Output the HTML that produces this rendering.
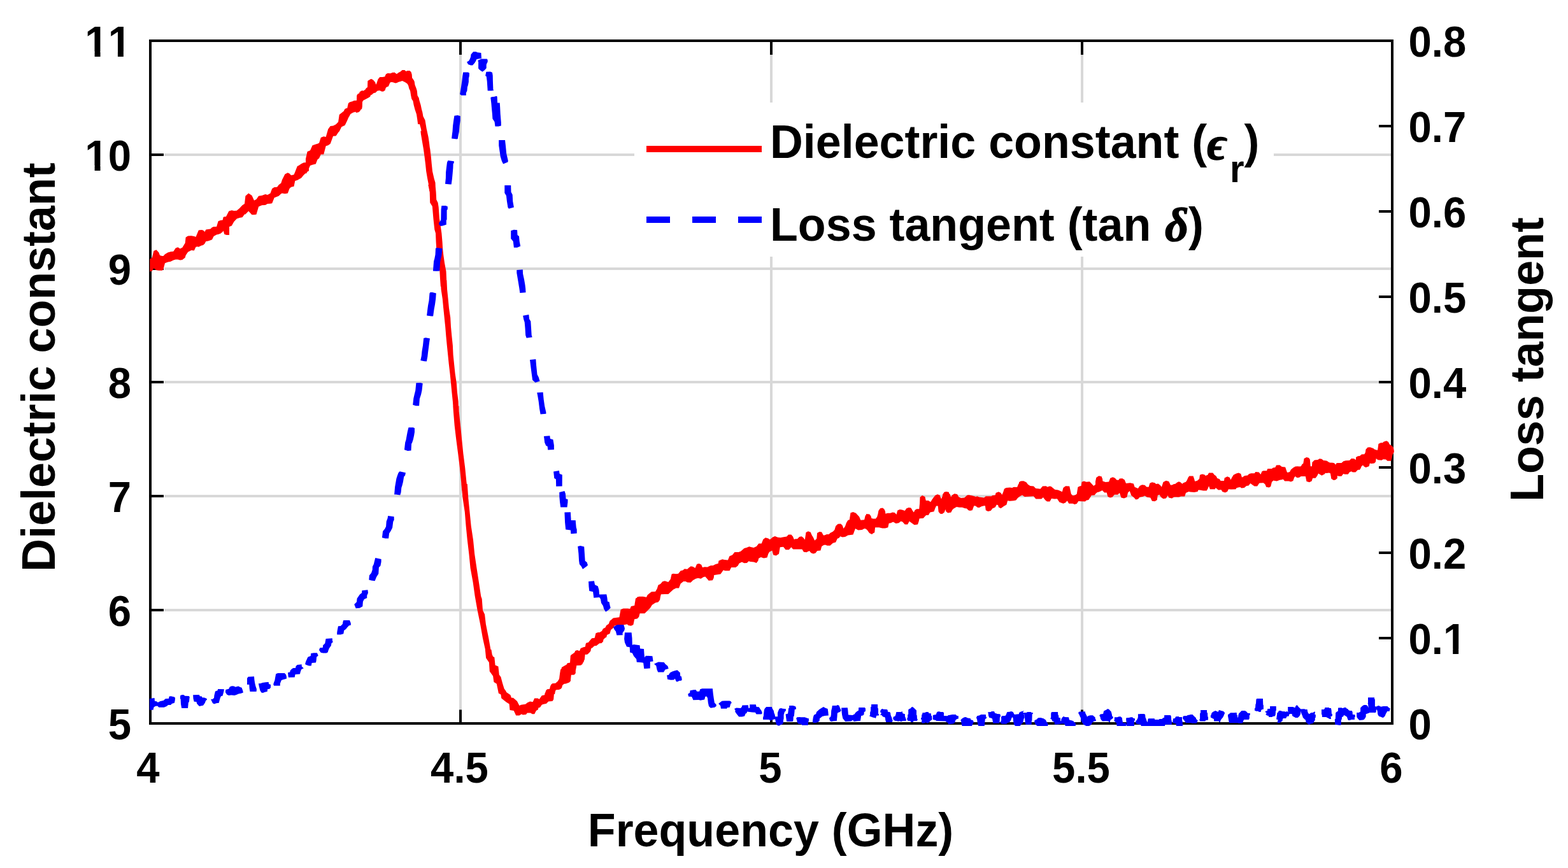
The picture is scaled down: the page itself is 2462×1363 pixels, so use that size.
<!DOCTYPE html><html><head><meta charset="utf-8"><title>Dielectric constant and loss tangent</title><style>html,body{margin:0;padding:0;background:#fff;overflow:hidden}svg{display:block}text{font-family:'Liberation Sans', Arial, Helvetica, sans-serif;font-weight:bold;fill:#000;font-kerning:none}</style></head><body>
<svg width="2462" height="1363" viewBox="0 0 2462 1363">
<rect width="2462" height="1363" fill="#fff"/>
<path d="M723 64V1136M1211 64V1136M1699 64V1136M258 958H2186M258 779H2186M258 600H2186M258 422H2186M258 243H2186" stroke="#d8d8d8" stroke-width="4" fill="none"/>
<path d="M236 64H2186V1136H236Z" stroke="#000" stroke-width="4" fill="none" stroke-linejoin="miter"/>
<path d="M723 1136v-21.5M723 64v22M1211 1136v-21.5M1211 64v22M1699 1136v-21.5M1699 64v22M236 958h21M236 779h21M236 600h21M236 422h21M236 243h21M2186 1002h-21M2186 868h-21M2186 734h-21M2186 600h-21M2186 466h-21M2186 332h-21M2186 198h-21" stroke="#000" stroke-width="4" fill="none" stroke-linecap="butt"/>
<path d="M235.3 406.7 238.8 404.5 241.4 393.9 245.4 392.2 249.4 396.6 251.1 401.0 254.6 401.9 256.4 401.9 259.0 399.2 263.5 396.6 267.9 395.3 272.3 394.8 275.8 389.5 279.3 388.2 282.8 390.4 286.3 388.7 290.7 381.6 291.6 372.8 295.1 370.6 300.4 370.2 304.8 371.1 307.5 371.9 310.1 365.8 311.9 361.4 316.3 360.9 318.9 361.4 321.5 364.0 323.3 360.5 326.8 360.1 330.4 359.6 333.0 357.0 335.6 356.1 340.0 356.1 342.7 347.3 346.2 346.0 349.7 345.5 350.6 341.1 352.4 340.2 355.9 340.2 360.0 334.1 360.0 368.9 355.9 368.9 352.4 368.0 350.6 362.3 349.7 364.0 346.2 366.7 342.7 368.0 340.0 368.4 335.6 371.1 333.0 376.3 330.4 377.2 326.8 378.5 323.3 379.0 321.5 382.5 318.9 385.1 316.3 385.6 311.9 387.8 310.1 387.3 307.5 387.8 304.8 393.5 300.4 393.1 295.1 395.7 291.6 401.0 290.7 404.5 286.3 408.0 282.8 408.5 279.3 407.6 275.8 407.6 272.3 408.5 267.9 410.7 263.5 411.5 259.0 413.3 256.4 423.0 254.6 424.8 249.4 424.8 245.4 424.3 241.4 421.2 238.8 425.6 235.3 426.5ZM355.0 339.9 359.4 331.5 363.8 330.2 367.3 331.1 371.7 330.7 376.1 327.1 380.5 322.3 384.0 320.1 385.4 307.8 390.2 303.4 395.5 306.9 399.0 314.8 402.5 313.1 406.1 307.8 411.3 306.9 416.6 305.1 420.1 306.0 424.5 303.4 427.2 296.3 430.7 294.1 435.1 293.7 437.7 290.2 441.3 287.5 443.0 282.3 447.4 273.5 451.8 271.2 454.5 272.6 457.1 275.2 461.5 274.3 463.3 269.9 466.8 261.1 469.4 259.8 473.0 257.2 476.5 255.4 480.0 255.0 480.9 248.8 485.0 240.0 485.0 268.2 480.9 270.8 480.0 271.7 476.5 275.2 473.0 279.6 469.4 281.4 466.8 283.1 463.3 284.0 461.5 292.8 457.1 293.7 454.5 296.3 451.8 303.4 447.4 304.3 443.0 303.4 441.3 304.3 437.7 307.8 435.1 308.7 430.7 310.4 427.2 319.2 424.5 319.7 420.1 320.1 416.6 321.9 411.3 322.3 406.1 324.5 402.5 336.8 399.0 337.3 395.5 337.3 390.2 331.5 385.4 336.4 384.0 336.4 380.5 341.2 376.1 342.1 371.7 343.4 367.3 348.3 363.8 354.4 359.4 356.2 355.0 361.5ZM480.0 249.5 482.6 238.0 487.0 236.3 490.6 228.3 495.8 226.6 498.5 225.7 501.1 224.4 503.8 216.0 508.2 214.3 511.7 215.1 515.2 202.8 518.7 198.0 523.1 197.5 527.5 195.3 531.1 191.4 532.8 179.9 536.3 177.3 541.6 172.9 545.1 170.2 546.9 162.3 550.4 160.1 554.8 158.8 557.5 158.4 557.5 176.1 554.8 176.4 550.4 179.0 546.9 185.2 545.1 189.6 541.6 196.7 536.3 199.3 532.8 206.3 531.1 208.1 527.5 213.4 523.1 213.8 518.7 225.7 515.2 228.3 511.7 229.2 508.2 242.4 503.8 242.4 501.1 248.6 498.5 250.4 495.8 257.4 490.6 258.7 487.0 260.0 482.6 270.0 480.0 273.2ZM540.0 174.0 541.2 171.6 543.5 169.9 545.9 168.7 546.5 165.2 547.6 161.6 549.4 160.2 553.5 159.9 555.3 158.1 560.0 157.8 560.2 149.9 561.7 147.6 564.1 146.4 564.6 144.6 566.4 143.2 568.8 142.0 570.5 142.9 571.7 142.0 573.5 141.1 574.6 138.8 577.0 137.0 577.6 132.3 578.7 127.0 581.1 125.0 582.8 124.1 585.2 125.0 586.9 126.4 589.3 129.4 590.2 132.9 591.6 130.5 592.8 130.0 593.4 125.3 594.6 122.9 596.3 121.2 604.0 120.9 605.1 118.2 606.3 116.2 608.7 115.0 612.8 115.3 613.9 115.9 615.1 114.1 620.0 113.8 620.0 130.0 618.1 129.4 613.9 128.8 612.2 129.4 611.6 131.7 609.8 135.8 606.9 136.7 605.1 138.8 604.0 142.3 601.6 143.7 598.7 143.5 596.3 142.0 594.0 142.0 592.2 142.9 589.3 145.8 586.4 146.1 584.0 148.7 582.3 149.0 581.1 151.7 578.1 153.7 576.4 154.6 574.6 154.6 572.3 155.8 570.5 157.5 569.0 159.9 568.8 167.5 568.2 171.0 566.4 172.2 565.2 174.6 562.9 176.3 559.4 176.9 556.4 174.0 555.3 174.0 554.1 176.3 551.2 177.5 549.4 179.2 548.8 182.2 545.9 185.7 544.7 190.0 540.0 192.2ZM570.0 143.1 573.7 140.5 577.0 137.6 577.3 127.3 578.1 126.6 582.5 124.0 586.1 125.8 588.3 128.8 590.5 133.2 593.5 124.4 596.4 121.1 600.8 121.1 604.5 120.3 606.0 116.3 609.6 115.2 612.6 115.5 615.5 114.2 620.6 114.4 622.8 116.3 625.8 114.1 628.7 112.6 631.6 110.0 635.3 110.0 637.5 111.9 639.7 111.1 643.4 111.1 645.6 113.3 646.7 117.0 642.3 139.0 641.2 134.6 639.7 131.7 637.5 129.9 635.3 128.8 631.6 126.9 628.7 128.0 625.8 128.8 622.8 130.2 620.6 130.6 615.5 128.8 612.6 129.5 609.6 135.4 606.0 137.2 604.5 142.0 600.8 143.4 596.4 142.0 592.0 142.7 588.3 145.6 582.5 148.6 580.3 152.2 576.6 154.4 573.7 155.9 570.0 158.1ZM645.6 113.3 646.7 117.0 647.1 122.2 649.6 125.8 650.7 128.0 651.5 133.2 653.7 139.0 654.8 142.7 655.5 150.0 657.7 153.7 658.4 157.4 660.6 164.7 662.1 172.1 663.2 175.7 663.9 179.4 665.0 186.7 667.6 190.4 668.0 195.0 656.2 195.0 655.1 186.7 654.0 179.4 651.5 172.1 649.6 164.7 648.5 158.8 646.3 155.2 645.2 150.0 644.1 142.7 642.3 139.0 641.2 134.6 642.6 113.3ZM663.1 180.0 667.5 188.8 669.7 202.0 672.6 215.2 673.9 224.1 675.2 235.1 666.0 235.1 664.7 224.1 660.9 202.0 657.2 188.8 654.3 180.0ZM670.6 205.7 671.2 210.4 672.9 222.2 675.3 233.9 676.7 245.6 677.8 257.4 679.0 269.1 681.7 280.8 683.5 286.7 684.1 300.0 674.1 300.0 673.5 292.6 671.2 280.8 669.2 269.1 668.0 257.4 666.5 245.6 664.9 233.9 662.9 222.2 660.9 210.4 660.4 205.7ZM683.5 290.0 684.6 301.7 685.2 313.5 687.6 318.2 688.7 325.2 689.9 342.8 691.7 354.5 693.4 366.2 694.6 380.3 695.2 390.9 696.4 401.4 698.1 413.2 700.5 426.1 701.1 439.0 701.6 449.9 691.9 449.9 691.1 439.0 690.3 424.9 687.0 407.3 685.2 389.7 684.6 380.3 684.0 366.2 682.3 360.4 680.5 344.0 679.4 331.1 678.8 324.0 675.2 318.2 674.7 301.7 672.3 290.0ZM701.4 440.0 702.1 454.7 703.6 469.3 705.0 484.0 707.2 498.7 708.0 513.3 709.4 528.0 710.9 542.6 711.6 557.3 713.1 572.0 714.6 586.6 716.8 601.3 717.9 616.0 719.7 630.6 720.0 639.9 711.6 639.9 710.9 630.6 709.4 616.0 708.0 601.3 706.5 586.6 704.8 572.0 703.3 557.3 701.8 542.6 700.4 528.0 699.2 513.3 697.7 498.7 696.2 484.0 694.8 469.3 692.6 454.7 691.8 440.0ZM720.5 637.4 720.7 646.2 723.0 668.2 725.2 690.3 727.4 712.3 730.2 734.3 732.4 756.3 734.0 770.2 725.2 770.2 724.1 756.3 721.9 734.3 719.2 712.3 716.3 690.3 713.7 668.2 711.9 646.2 711.3 637.4ZM733.8 760.0 735.3 782.0 737.5 804.1 739.7 826.1 743.0 848.1 745.2 870.1 748.5 892.2 751.9 914.2 755.2 936.2 756.7 940.6 758.0 958.2 761.1 964.8 762.9 980.3 767.3 1002.3 771.2 1024.3 775.0 1033.1 777.2 1046.3 783.8 1060.2 772.8 1060.2 769.5 1046.3 767.7 1035.3 762.9 1024.3 758.0 1002.3 754.1 980.3 749.6 958.2 745.7 936.2 742.6 914.2 738.6 892.2 736.4 870.1 733.8 848.1 731.6 826.1 729.8 804.1 726.5 782.0 724.3 760.0ZM771.4 1020.0 773.2 1030.6 776.3 1031.9 777.6 1044.6 782.4 1046.4 783.8 1059.6 786.4 1063.1 789.0 1072.8 791.7 1081.6 794.3 1085.1 795.2 1086.9 801.4 1091.3 803.1 1095.7 805.8 1095.7 811.9 1101.0 815.5 1108.0 818.1 1106.7 825.1 1105.8 828.2 1103.2 832.2 1101.4 836.6 1102.3 839.2 1096.6 844.5 1096.6 846.7 1097.9 850.7 1092.2 855.1 1091.3 857.7 1083.4 863.0 1082.1 865.6 1074.6 871.8 1073.3 877.1 1068.4 878.8 1063.1 880.6 1050.8 884.1 1048.2 888.5 1048.2 890.0 1046.4 890.0 1072.8 885.9 1073.7 883.2 1075.9 881.5 1080.7 878.0 1082.5 872.7 1083.4 870.0 1088.7 869.2 1098.3 867.4 1101.0 861.2 1101.4 857.7 1104.9 853.3 1105.8 850.7 1106.7 848.0 1110.7 845.4 1111.5 844.9 1114.2 841.9 1116.0 839.2 1121.2 835.7 1121.2 833.1 1119.5 827.8 1119.5 826.0 1122.1 820.7 1122.6 819.0 1121.2 815.5 1123.4 810.2 1123.4 806.7 1116.0 800.5 1115.1 799.6 1105.4 795.2 1102.7 787.3 1096.6 786.4 1090.4 782.9 1088.7 779.8 1073.7 775.4 1071.1 774.1 1061.4 768.8 1054.3 767.9 1040.2 763.1 1033.2 761.8 1020.0ZM881.8 1048.0 889.7 1043.6 890.6 1041.4 895.0 1040.5 895.8 1029.5 897.6 1027.7 902.0 1025.1 903.8 1022.0 906.4 1021.1 909.9 1022.4 911.7 1018.0 916.1 1016.3 918.7 1015.8 920.5 1009.7 924.0 1008.8 926.7 1005.7 929.3 1002.2 933.7 1001.7 935.5 994.3 939.0 992.9 941.6 992.9 945.1 990.7 946.9 987.2 950.4 985.5 952.2 981.9 955.7 979.7 957.5 974.9 961.0 972.3 962.7 970.5 972.4 969.2 973.3 964.3 974.6 957.3 978.6 955.5 985.6 955.5 989.2 956.0 990.9 952.0 996.2 951.1 998.0 939.7 1002.4 937.0 1010.0 937.0 1010.0 960.8 1005.0 961.7 1003.2 968.7 1000.6 971.4 996.2 972.3 994.4 981.1 990.9 982.8 986.5 981.9 984.8 980.2 980.4 981.1 968.0 981.9 964.5 982.8 962.7 986.3 959.2 989.0 957.5 995.1 953.1 996.9 952.2 1000.4 947.8 1003.1 946.0 1007.9 941.6 1009.2 937.2 1012.7 932.8 1013.6 928.4 1018.0 926.7 1023.3 923.1 1026.8 918.7 1027.7 917.9 1035.6 915.2 1040.9 912.6 1044.4 905.5 1044.4 903.8 1053.2 881.8 1053.2ZM1000.0 937.7 1003.5 936.8 1009.7 936.8 1015.0 937.7 1016.7 934.2 1019.4 932.0 1022.9 929.3 1029.0 928.9 1031.7 924.5 1033.5 918.8 1037.0 917.0 1040.5 913.1 1044.0 912.2 1049.3 913.9 1052.8 909.5 1054.6 901.6 1057.2 900.7 1061.6 901.2 1065.1 900.7 1068.7 896.3 1072.2 895.5 1074.8 893.3 1079.2 893.7 1081.0 891.9 1084.5 889.3 1088.0 889.7 1091.5 891.9 1094.2 885.8 1097.7 884.9 1101.2 886.7 1103.0 891.1 1106.5 890.2 1110.9 890.6 1113.6 888.9 1116.2 888.0 1121.5 888.0 1123.2 886.2 1127.6 884.9 1128.5 880.5 1130.0 880.1 1130.0 900.7 1125.9 900.7 1121.5 901.6 1120.6 907.8 1118.8 911.3 1112.7 911.7 1110.9 909.5 1107.4 905.6 1104.8 906.0 1100.4 908.7 1096.0 907.8 1092.4 908.7 1088.0 911.3 1084.5 914.8 1079.2 914.4 1076.6 913.1 1073.1 913.1 1068.7 916.6 1066.0 923.6 1061.6 923.6 1057.2 925.8 1052.8 929.8 1049.3 932.9 1044.0 932.9 1037.9 933.3 1037.0 936.8 1036.1 942.1 1033.5 945.6 1029.0 946.5 1023.8 950.0 1021.1 954.4 1017.6 958.0 1012.3 963.2 1000.0 963.2ZM1120.0 887.8 1123.5 886.1 1127.9 884.8 1129.7 879.9 1134.1 878.2 1137.6 879.0 1142.9 879.5 1145.5 873.3 1149.9 871.5 1153.5 867.1 1159.6 867.1 1163.1 865.8 1168.4 861.0 1172.8 859.7 1176.3 858.3 1179.9 859.2 1183.4 860.1 1187.8 857.9 1191.3 853.5 1195.7 853.5 1198.3 846.9 1201.9 844.3 1206.3 845.6 1208.9 847.3 1213.3 843.4 1216.8 842.1 1221.2 843.8 1225.6 844.3 1229.2 843.4 1235.3 842.5 1238.0 839.4 1242.4 839.4 1245.0 842.5 1246.8 846.9 1250.0 846.0 1250.0 862.3 1245.0 862.3 1242.4 859.2 1238.8 863.2 1233.6 863.2 1230.0 858.8 1224.8 859.2 1223.0 869.8 1218.6 872.4 1214.2 871.5 1212.4 864.5 1208.0 866.7 1206.3 869.8 1204.5 875.5 1199.2 876.4 1194.8 875.1 1191.3 876.8 1190.4 880.4 1187.8 883.9 1183.4 882.6 1178.1 882.1 1175.5 881.2 1172.8 883.9 1168.4 884.3 1164.9 882.6 1160.5 884.8 1158.7 888.3 1155.2 890.9 1148.2 890.9 1145.5 896.2 1138.5 896.2 1135.8 895.3 1131.4 901.5 1120.0 903.2ZM1240.0 839.5 1242.6 840.4 1245.3 845.7 1247.0 847.0 1252.3 846.1 1255.0 843.1 1258.5 842.2 1261.1 843.9 1263.8 847.5 1265.5 836.0 1269.0 834.3 1272.6 835.6 1274.8 840.4 1277.0 843.9 1279.2 848.8 1282.3 845.7 1283.1 836.9 1286.7 835.1 1290.2 835.6 1292.8 840.4 1294.6 840.4 1298.1 839.1 1301.6 839.1 1303.4 836.9 1307.8 834.7 1310.4 832.1 1312.2 825.9 1315.7 822.8 1320.1 822.4 1322.7 825.0 1324.5 829.9 1327.1 826.3 1328.9 821.1 1331.5 816.7 1333.8 816.2 1335.5 805.2 1339.5 803.9 1343.9 805.7 1349.2 811.4 1351.4 816.7 1357.1 816.2 1358.8 809.2 1363.2 807.4 1366.8 809.2 1368.5 814.0 1370.0 814.0 1370.0 838.7 1368.5 838.7 1365.0 836.9 1360.6 830.7 1357.1 829.9 1353.6 832.1 1347.4 832.5 1343.0 829.9 1339.5 839.5 1331.5 840.4 1327.1 843.1 1322.7 843.5 1319.2 842.2 1317.5 844.8 1314.8 845.7 1312.2 851.4 1307.8 852.7 1303.4 856.7 1299.0 856.7 1295.5 855.4 1292.8 856.3 1290.2 858.0 1288.4 864.6 1283.1 865.1 1280.5 868.6 1277.0 869.5 1273.5 868.2 1270.8 865.1 1266.4 867.3 1262.0 866.8 1259.4 862.4 1252.3 862.4 1245.3 862.4 1242.6 858.9 1240.0 861.5ZM1360.0 807.1 1365.3 807.6 1367.9 811.5 1368.4 814.2 1375.0 814.6 1377.2 811.5 1378.5 807.1 1379.4 801.9 1382.0 798.3 1385.5 797.5 1388.2 799.2 1389.9 802.7 1390.4 806.7 1393.5 805.8 1397.9 805.8 1401.4 804.5 1404.9 804.9 1407.5 808.0 1409.3 801.4 1412.8 800.1 1416.3 800.5 1420.7 801.9 1423.4 798.3 1426.9 797.0 1430.4 797.5 1433.1 802.3 1434.8 804.5 1436.6 801.0 1439.2 799.2 1443.2 799.2 1444.1 790.4 1444.5 780.7 1448.0 778.1 1452.4 779.9 1453.8 786.0 1457.7 786.0 1461.2 788.2 1463.9 783.8 1468.3 778.1 1471.8 776.3 1475.3 777.2 1478.0 783.4 1478.8 781.6 1482.4 772.8 1485.9 771.9 1489.4 772.8 1490.0 772.8 1490.0 805.4 1488.5 805.4 1485.9 803.6 1485.0 798.3 1483.2 803.6 1479.7 807.1 1476.2 806.7 1473.6 803.6 1472.7 794.4 1470.0 794.4 1468.3 798.3 1466.5 803.2 1460.4 804.5 1457.7 808.9 1454.2 808.9 1452.4 810.7 1449.8 813.8 1443.6 814.2 1442.7 818.6 1441.0 823.4 1435.7 824.3 1430.4 820.4 1427.8 818.6 1425.1 823.4 1420.7 823.4 1417.2 819.5 1414.6 818.6 1411.1 821.2 1406.7 822.1 1402.3 819.5 1398.7 821.2 1395.7 821.7 1394.3 828.3 1389.9 829.6 1385.5 829.6 1380.2 828.3 1374.1 828.3 1373.2 836.2 1368.8 838.4 1363.5 833.6 1360.0 830.9ZM1480.0 776.6 1481.8 773.9 1485.3 772.2 1488.8 772.6 1491.4 775.7 1493.2 780.5 1495.0 777.5 1498.5 775.3 1502.9 776.1 1505.5 780.5 1509.0 781.9 1514.3 781.4 1518.7 777.5 1521.4 777.3 1530.2 779.2 1531.9 780.1 1534.6 779.2 1537.2 780.5 1545.1 781.4 1547.8 779.2 1556.6 779.2 1558.3 777.9 1562.7 777.5 1563.6 773.9 1568.0 772.2 1571.5 773.9 1573.3 777.0 1575.1 773.1 1576.8 767.8 1579.5 766.0 1585.6 765.6 1589.2 766.0 1591.8 764.7 1597.1 765.1 1598.8 760.7 1601.5 756.3 1605.0 755.5 1608.5 756.3 1610.0 757.7 1610.0 779.7 1608.5 779.7 1605.0 777.5 1601.5 779.2 1598.0 781.9 1595.3 785.4 1591.8 786.3 1585.6 786.7 1582.1 786.3 1580.4 792.4 1576.0 795.1 1571.5 798.2 1568.0 796.4 1567.1 793.3 1564.9 792.4 1562.7 796.4 1558.3 798.6 1555.7 802.1 1551.3 803.0 1547.8 801.2 1546.9 794.2 1545.1 794.2 1541.6 795.1 1537.2 797.3 1534.6 796.8 1531.9 794.6 1529.3 794.2 1526.7 801.2 1523.1 802.1 1520.5 801.2 1517.9 798.6 1515.2 798.2 1510.8 796.8 1506.4 796.8 1502.0 796.0 1497.6 798.6 1495.4 800.4 1493.2 804.8 1487.9 805.2 1485.3 803.0 1484.0 797.7 1482.6 804.8 1480.0 806.5ZM1600.0 757.2 1602.6 755.5 1607.0 755.3 1611.4 757.2 1614.1 760.7 1617.6 762.9 1622.9 763.4 1626.4 766.9 1629.9 767.3 1633.5 767.8 1637.0 763.4 1642.3 763.2 1644.9 764.7 1647.5 763.4 1650.2 763.8 1656.3 768.7 1661.6 769.5 1667.8 772.2 1669.5 766.0 1673.1 763.2 1679.2 763.4 1681.9 775.7 1684.5 778.3 1688.0 777.5 1690.7 775.7 1692.4 765.1 1695.1 763.4 1697.7 762.9 1698.6 756.8 1702.1 755.5 1705.6 756.8 1710.9 756.3 1714.4 759.9 1717.1 762.9 1720.2 760.7 1721.5 750.2 1725.0 747.5 1728.5 748.0 1730.0 748.4 1730.0 770.4 1728.5 771.3 1725.0 772.6 1721.5 773.5 1718.8 777.5 1713.6 777.9 1712.7 779.7 1709.2 784.9 1705.6 785.8 1703.9 787.6 1693.3 787.1 1690.7 791.1 1687.1 792.0 1684.5 790.7 1678.3 790.7 1675.7 786.3 1673.1 789.3 1669.5 790.7 1663.4 788.5 1659.9 783.2 1655.5 783.6 1651.1 782.7 1648.4 787.6 1644.0 787.6 1641.4 785.4 1637.9 781.0 1635.2 783.6 1626.4 783.6 1622.9 779.2 1614.1 779.7 1608.8 780.1 1604.4 777.0 1600.0 780.1ZM1720.0 756.0 1721.3 749.9 1725.3 747.2 1728.8 748.1 1731.0 751.6 1731.4 755.6 1735.8 756.9 1741.1 756.5 1743.3 750.7 1747.3 749.2 1750.8 750.7 1753.5 753.8 1756.5 753.8 1757.9 751.6 1762.3 751.2 1765.8 753.4 1768.0 759.1 1774.6 758.2 1779.9 759.5 1781.6 764.8 1786.9 767.0 1789.5 763.1 1793.1 761.3 1797.5 761.7 1800.1 764.4 1803.6 764.8 1805.4 758.7 1808.9 757.3 1813.3 758.2 1815.1 760.0 1818.6 759.5 1822.1 762.2 1823.9 764.8 1826.5 756.9 1830.9 754.7 1835.3 756.0 1838.0 761.7 1841.5 761.3 1845.9 759.5 1848.5 757.3 1850.0 756.9 1850.0 780.7 1845.9 779.8 1843.2 780.7 1839.7 782.4 1835.3 781.5 1833.6 778.0 1830.9 782.4 1826.5 783.3 1823.0 780.7 1820.4 776.7 1817.7 778.0 1816.8 785.1 1813.3 787.3 1808.9 786.8 1806.3 781.5 1801.0 780.7 1797.5 778.5 1794.8 779.8 1789.5 780.7 1786.9 783.8 1783.4 784.6 1779.9 780.7 1776.3 778.0 1773.7 771.0 1771.1 773.6 1769.3 780.7 1764.9 782.4 1760.5 781.5 1757.9 774.1 1755.2 776.7 1749.9 776.7 1746.4 780.7 1742.9 781.5 1739.4 779.8 1737.6 773.6 1734.1 773.6 1730.6 770.1 1726.2 772.3 1722.6 773.2 1720.0 775.4ZM1840.0 762.0 1842.6 760.2 1846.2 759.8 1850.6 756.3 1853.2 757.1 1856.3 759.8 1858.5 758.0 1862.0 756.7 1863.8 754.1 1865.5 750.1 1867.3 747.5 1873.5 747.5 1875.2 752.3 1876.1 755.8 1879.6 754.9 1883.1 751.9 1884.0 745.7 1887.5 744.4 1891.1 745.3 1892.8 747.0 1896.3 745.7 1898.1 742.6 1904.3 742.4 1906.9 745.7 1909.5 747.5 1911.3 751.0 1914.8 752.3 1916.6 754.9 1921.9 754.9 1922.7 750.5 1927.1 748.3 1930.7 749.7 1932.4 753.6 1934.6 749.2 1936.8 745.7 1941.2 743.5 1944.8 742.4 1948.3 743.9 1950.0 749.7 1954.4 747.0 1958.8 746.6 1962.4 744.4 1965.0 743.5 1970.0 743.5 1970.0 763.8 1966.8 761.5 1965.0 760.2 1963.2 758.9 1960.6 762.4 1957.1 762.9 1953.6 766.0 1949.2 766.4 1947.4 765.1 1943.9 765.5 1941.2 766.4 1940.4 768.2 1933.3 768.6 1928.9 768.2 1927.1 772.1 1923.6 773.4 1919.2 772.1 1917.5 769.0 1913.1 769.5 1908.7 766.0 1907.8 768.2 1899.9 768.2 1898.1 763.3 1896.3 767.7 1894.6 770.4 1889.3 770.4 1884.0 769.5 1881.4 769.5 1880.5 772.1 1875.2 773.0 1869.0 772.6 1866.4 772.1 1862.0 773.9 1860.2 779.6 1854.1 779.6 1851.4 780.5 1845.3 780.5 1843.5 780.0 1840.0 782.7ZM1960.0 744.9 1961.8 744.1 1964.4 743.2 1969.7 743.2 1971.4 741.0 1976.7 741.4 1979.4 744.9 1981.6 740.1 1983.8 739.2 1989.0 739.2 1990.4 736.1 1997.0 735.9 1998.7 734.4 2002.3 733.9 2004.0 730.4 2009.3 730.2 2012.8 733.1 2018.1 733.5 2020.7 741.0 2021.6 741.9 2025.1 741.0 2026.9 737.5 2030.4 734.4 2033.9 732.6 2037.5 732.2 2040.1 732.6 2042.7 732.2 2044.5 729.1 2046.3 727.8 2047.6 719.9 2051.5 718.1 2055.1 719.0 2056.8 721.6 2057.7 732.2 2059.9 732.2 2060.4 726.0 2063.9 722.5 2069.2 722.1 2071.8 720.3 2075.3 720.7 2078.0 722.9 2083.2 723.4 2086.8 726.0 2090.0 726.9 2090.0 746.7 2089.4 746.7 2089.0 743.6 2086.8 742.3 2081.5 742.3 2079.7 744.5 2075.3 746.7 2070.0 743.6 2068.3 747.1 2065.6 750.7 2061.2 750.7 2059.5 755.5 2056.0 757.3 2051.5 756.0 2049.8 748.0 2042.7 748.0 2040.1 749.8 2036.6 750.2 2033.9 748.0 2032.2 749.8 2030.4 755.1 2026.9 756.4 2023.4 755.5 2017.2 755.5 2014.6 752.4 2012.8 753.3 2009.3 753.8 2004.9 755.5 2001.4 755.1 1999.6 754.6 1997.0 756.8 1995.2 763.9 1992.6 765.6 1988.2 764.8 1986.4 760.4 1983.8 758.2 1977.6 758.6 1976.7 759.5 1974.1 763.4 1969.7 763.4 1966.2 761.2 1964.4 757.3 1962.6 759.5 1960.0 762.6ZM2080.0 723.1 2082.9 723.8 2087.3 726.7 2091.0 726.4 2094.7 727.1 2097.2 729.7 2098.3 727.5 2099.8 727.1 2106.4 727.1 2109.3 724.2 2113.0 723.2 2118.9 723.1 2121.8 720.1 2126.2 720.3 2128.8 722.3 2129.1 717.9 2132.1 716.3 2135.0 716.1 2137.9 713.5 2142.3 713.2 2143.8 710.6 2144.5 705.8 2147.5 702.5 2151.2 702.2 2154.1 703.3 2156.3 704.0 2158.5 705.8 2162.9 706.9 2163.6 703.3 2164.4 697.0 2168.0 695.2 2171.0 695.2 2172.4 693.7 2176.8 692.3 2179.8 693.7 2182.0 698.1 2184.2 699.2 2187.1 701.4 2188.2 704.0 2188.9 708.4 2188.9 708.4 2188.6 710.6 2186.4 714.3 2185.6 718.7 2184.2 723.8 2178.3 723.8 2176.1 721.6 2171.7 721.2 2169.5 722.7 2163.6 722.3 2160.7 720.1 2160.0 725.3 2157.8 727.5 2153.4 727.9 2150.8 727.5 2149.7 731.9 2147.5 733.0 2144.5 734.1 2141.6 732.6 2140.1 730.4 2137.9 731.9 2136.8 734.8 2135.0 737.8 2132.1 737.8 2130.6 739.2 2128.4 741.4 2124.0 741.4 2121.8 740.3 2118.9 741.4 2116.7 744.7 2111.5 744.7 2109.3 744.0 2106.4 747.7 2102.0 747.7 2099.8 746.9 2099.8 751.0 2096.9 753.5 2093.9 753.9 2090.3 751.7 2089.5 746.6 2088.8 742.9 2086.6 742.5 2082.9 742.9 2080.0 742.5ZM855.0 1090.0 856.3 1087.2 857.3 1084.2 859.2 1082.2 862.9 1081.9 864.2 1077.3 865.2 1075.3 867.2 1073.2 871.8 1073.0 875.1 1071.0 876.8 1068.0 878.1 1066.1 878.4 1063.1 879.1 1057.5 880.1 1051.5 883.0 1048.2 888.0 1048.1 889.0 1046.9 890.0 1043.6 892.3 1041.3 894.9 1041.1 895.6 1037.0 896.2 1031.0 897.2 1029.1 900.2 1026.1 902.2 1024.4 903.2 1022.1 906.1 1021.1 909.8 1022.1 910.8 1023.1 911.1 1019.8 912.1 1018.2 916.1 1016.2 919.0 1015.9 919.4 1012.2 920.0 1010.2 921.3 1009.2 923.6 1008.9 926.9 1005.0 929.3 1002.3 933.9 1002.0 934.2 1000.0 949.7 1002.0 947.4 1004.6 947.1 1007.3 944.5 1009.9 941.1 1010.2 936.5 1013.9 933.2 1014.2 929.9 1017.5 927.9 1017.8 927.6 1021.8 926.6 1023.4 923.6 1026.4 922.0 1027.7 918.7 1027.7 918.0 1031.7 917.0 1035.7 916.7 1039.0 915.1 1041.0 914.4 1042.9 911.4 1044.8 906.1 1044.9 904.8 1044.3 904.8 1047.9 903.8 1048.9 903.8 1056.8 902.8 1058.8 900.9 1059.8 896.9 1059.8 896.2 1065.4 895.9 1069.4 893.6 1071.7 890.6 1072.7 889.0 1073.6 885.0 1074.0 883.0 1076.0 882.4 1079.3 881.0 1081.6 877.7 1082.9 872.8 1083.2 871.8 1085.9 871.1 1090.0Z" fill="#f00"/>
<path d="M234.9 1096.9 242.6 1096.1 243.0 1100.9 245.8 1101.3 247.9 1103.0 251.9 1100.9 256.8 1100.1 259.7 1097.3 264.9 1096.9 265.7 1093.6 268.6 1093.2 273.9 1094.4 275.1 1096.1 274.7 1100.1 273.9 1103.8 269.8 1105.0 268.2 1107.0 264.1 1107.0 261.7 1109.0 257.6 1110.7 249.5 1110.7 247.1 1108.6 243.8 1109.0 241.4 1110.7 240.6 1114.7 234.9 1114.7ZM283.2 1092.0 286.1 1091.0 288.9 1091.2 290.1 1092.8 296.6 1093.0 297.8 1094.4 297.4 1097.3 297.0 1101.7 295.8 1103.4 295.0 1111.9 285.2 1111.9 284.0 1105.8 283.6 1097.7 282.8 1096.9ZM303.1 1091.2 312.9 1091.0 313.7 1093.2 316.9 1093.6 317.3 1095.2 321.0 1095.6 324.6 1096.9 325.0 1098.5 323.0 1100.5 321.8 1103.8 319.0 1107.8 312.9 1108.9 309.2 1105.0 308.4 1102.1 304.7 1101.7 303.5 1096.9ZM331.1 1098.1 333.6 1098.1 336.0 1096.1 336.4 1092.0 338.0 1085.5 341.7 1084.3 342.1 1082.1 351.9 1082.2 351.4 1085.5 350.6 1088.7 349.4 1092.8 347.0 1093.2 345.8 1096.1 344.5 1100.5 343.7 1103.8 339.7 1104.2 336.4 1105.4 334.0 1104.2 332.4 1100.9ZM354.3 1083.1 359.2 1081.8 360.8 1078.6 364.0 1077.2 367.3 1077.4 369.7 1078.8 374.2 1077.4 377.0 1079.0 379.5 1079.8 381.1 1083.9 381.9 1087.5 378.7 1088.7 374.6 1089.6 371.3 1091.0 368.1 1092.0 363.2 1091.6 359.2 1092.0 356.3 1090.8 353.9 1087.1ZM388.0 1065.2 389.6 1062.7 399.0 1062.3 399.4 1067.2 400.2 1072.5 401.4 1077.4 403.0 1082.2 402.6 1085.9 392.5 1085.9 391.7 1081.4 391.3 1074.9 388.0 1074.9ZM405.9 1073.3 408.7 1073.3 412.4 1072.1 417.7 1071.3 421.7 1071.1 422.1 1074.1 425.0 1074.9 425.0 1079.8 423.3 1081.8 420.1 1082.2 419.7 1085.9 416.0 1086.7 412.8 1087.9 410.3 1087.5 408.3 1083.9 406.7 1077.4ZM433.2 1058.2 436.3 1057.1 446.9 1057.1 449.1 1059.5 449.9 1062.6 449.9 1065.7 445.1 1067.0 442.0 1067.9 441.1 1070.1 439.8 1073.6 439.8 1076.7 430.1 1076.7 429.2 1074.5 430.1 1071.4 431.4 1068.3 432.3 1063.0ZM452.1 1056.0 455.2 1055.5 455.7 1052.9 458.3 1050.3 460.5 1049.1 464.0 1048.9 464.5 1046.3 466.7 1044.1 473.7 1043.2 473.7 1046.3 476.8 1049.4 473.3 1051.1 472.0 1054.2 470.9 1058.6 463.6 1059.1 462.7 1063.5 453.0 1063.7 452.4 1060.4ZM479.2 1042.3 480.3 1038.4 481.6 1035.7 483.4 1031.8 487.8 1030.0 488.2 1026.0 492.6 1025.2 497.9 1025.2 499.7 1029.6 497.1 1031.8 496.6 1037.5 495.9 1040.6 489.6 1041.0 488.7 1045.4 485.2 1045.4 479.9 1043.7ZM501.0 1020.8 502.3 1017.2 506.7 1017.1 507.2 1013.3 510.3 1010.2 511.6 1003.1 521.7 1002.3 522.1 1007.1 523.0 1008.0 520.4 1010.2 519.9 1013.7 516.9 1018.1 515.5 1021.6 514.7 1024.3 512.5 1025.6 507.2 1025.6 503.7 1024.7 501.5 1021.6ZM529.2 993.0 530.1 987.7 531.0 983.3 534.9 983.1 538.0 979.8 538.4 976.7 539.3 974.1 549.0 974.1 550.8 978.5 550.9 981.6 547.7 982.5 545.0 985.5 543.3 987.7 540.2 989.9 539.3 995.2 534.9 996.5 529.2 996.5ZM556.2 949.1 560.0 945.3 560.6 939.7 564.9 933.5 568.1 931.0 568.4 927.2 577.4 926.2 578.0 931.0 576.2 935.3 576.2 939.1 571.8 941.0 569.9 944.7 569.3 952.2 564.9 954.7 558.7 955.3ZM579.3 910.4 579.9 903.5 583.0 899.8 584.7 894.8 584.9 889.8 586.8 886.1 588.0 881.1 589.3 876.1 598.6 878.0 598.6 882.3 597.4 888.6 594.9 891.1 594.3 901.0 591.1 906.0 588.6 912.3 583.0 911.6ZM599.9 844.3 601.1 834.3 604.2 830.6 606.1 826.8 606.7 818.7 608.6 813.7 609.2 810.0 618.6 811.2 618.8 816.2 617.3 819.3 616.1 828.7 613.6 833.7 611.1 837.4 610.1 845.5 604.9 845.5ZM619.1 776.6 620.1 764.7 621.0 759.4 622.4 751.5 624.1 746.2 625.7 742.2 627.6 740.3 636.9 742.2 636.2 746.2 634.2 748.8 632.9 756.8 631.6 762.0 630.3 766.0 629.6 773.3 628.3 777.6 621.7 776.6ZM634.9 706.3 636.2 694.7 637.5 690.7 638.9 682.8 639.9 677.5 641.5 671.2 648.8 671.2 651.0 672.3 651.0 678.6 650.1 684.1 648.8 690.1 647.0 695.4 646.1 696.7 645.5 707.6 640.2 707.9 635.6 706.6ZM648.2 635.7 649.3 625.5 650.8 618.9 652.3 613.0 653.4 601.3 660.3 601.0 663.7 602.0 662.5 613.0 661.1 619.6 658.9 626.2 658.1 637.2 653.0 637.2ZM660.3 566.1 661.8 558.8 662.5 551.4 664.0 542.6 665.2 530.9 668.4 530.2 675.0 531.6 674.0 538.2 673.1 545.6 672.1 552.9 671.3 560.2 669.9 567.6 666.2 567.3ZM670.1 495.4 671.3 485.5 672.1 479.6 673.5 472.3 674.5 460.5 675.7 459.1 678.9 459.1 684.8 460.5 684.2 469.3 683.0 478.1 681.6 485.5 680.1 496.5 677.2 496.5ZM679.9 425.5 681.1 410.2 682.3 406.1 683.5 399.7 684.0 389.7 686.4 389.1 694.6 390.3 694.0 395.6 693.4 401.4 691.9 407.3 691.1 412.0 690.7 419.0 690.3 425.5 685.2 425.7ZM689.1 352.2 689.3 349.8 691.1 347.5 692.3 345.1 692.6 328.7 693.4 323.1 699.9 323.1 702.8 324.3 702.8 328.7 701.6 329.9 701.6 344.5 700.8 346.3 700.8 352.8 695.2 354.5 691.7 355.1ZM699.0 288.8 699.9 279.7 700.1 270.3 701.1 262.1 702.0 255.0 703.4 252.1 709.3 252.7 712.8 253.3 712.8 255.6 711.6 257.4 711.4 263.8 710.7 272.0 709.9 280.8 708.7 289.6 706.4 289.6ZM709.1 217.5 709.9 210.4 710.5 206.3 711.1 197.5 712.2 189.3 713.4 181.7 718.7 181.1 722.8 182.3 722.8 189.3 721.6 197.5 720.8 206.9 719.6 212.8 718.7 218.1 717.3 218.6ZM722.1 148.1 723.1 142.0 724.1 135.8 725.2 128.6 726.2 119.4 727.2 113.4 734.9 113.4 737.0 114.8 736.8 119.4 735.9 123.0 735.9 128.6 734.9 133.8 733.9 136.8 733.4 142.5 731.8 146.1 731.8 149.7 724.6 149.7ZM733.1 97.3 735.9 95.8 737.5 93.2 739.0 89.6 739.5 85.5 743.1 81.2 747.7 81.2 749.3 82.2 755.4 82.9 756.0 91.7 752.4 92.2 748.3 92.9 747.2 95.8 745.2 98.9 742.1 102.4 739.0 102.4 734.9 101.1ZM750.1 95.3 751.3 94.5 755.4 92.5 764.7 92.5 765.7 94.2 765.7 97.3 764.7 98.9 763.7 101.4 763.7 107.1 761.1 110.1 757.5 112.7 753.4 110.1 751.1 107.6 751.1 96.8ZM762.1 118.9 763.4 112.7 769.8 112.4 772.9 113.7 773.7 118.4 773.9 127.6 774.4 140.9 775.5 142.0 771.9 142.5 765.7 142.5 764.7 127.6 763.7 119.9ZM770.3 153.3 771.9 152.2 776.5 151.7 779.6 150.7 780.6 151.7 781.1 161.5 784.7 161.5 785.2 168.7 785.7 178.9 786.8 192.3 786.8 197.4 782.6 198.4 777.5 198.4 776.5 191.3 773.4 186.6 772.9 178.9 771.9 168.7 771.4 162.5ZM783.2 228.4 783.2 220.1 793.0 220.1 794.0 228.9 795.2 241.3 797.8 252.3 797.4 254.5 790.1 257.4 787.9 253.0 785.7 245.7 784.9 239.9ZM792.3 302.9 792.3 290.9 802.2 290.9 802.5 301.4 804.7 305.8 805.2 316.1 806.9 325.6 798.9 327.8 797.4 325.6 795.9 316.1 794.9 307.3ZM802.2 374.8 802.2 362.3 806.9 360.8 812.1 361.3 812.5 368.9 815.0 371.1 815.7 379.1 817.2 386.5 812.1 388.7 806.9 388.7 805.7 379.1ZM811.3 428.4 811.3 424.0 820.8 423.3 821.1 429.9 823.0 438.7 824.5 447.4 825.2 453.3 825.5 459.2 816.4 459.9 815.2 451.8 813.5 441.6ZM821.1 495.8 830.3 494.1 831.1 501.0 833.3 504.6 834.0 514.9 834.7 526.6 835.7 529.6 826.7 530.7 825.2 526.6 824.5 514.9 823.7 506.1 822.3 501.7ZM832.0 565.1 841.3 564.1 842.0 573.2 843.5 587.9 845.7 592.3 847.6 598.4 840.5 600.8 836.1 596.7 834.7 586.4 833.2 574.7ZM843.2 616.5 852.6 616.0 853.7 627.4 855.2 637.7 857.4 647.2 857.4 649.7 848.6 650.6 847.1 642.1 845.7 630.4 844.2 621.6ZM854.0 684.9 863.3 684.3 864.0 689.0 868.4 690.2 869.9 699.3 869.9 705.9 860.3 706.6 859.6 700.8 857.4 700.0 855.2 694.9ZM869.1 740.4 877.9 738.9 878.7 744.0 882.8 745.5 882.7 763.5 873.2 763.8 872.9 752.5 870.3 751.0ZM878.3 773.0 886.4 771.1 887.9 775.2 888.6 783.3 891.5 784.0 891.5 788.4 890.5 796.5 880.2 796.5 879.1 788.4 878.3 779.6ZM886.4 804.5 895.9 804.2 896.7 817.0 903.7 817.0 904.7 828.0 905.7 831.6 905.7 837.5 896.4 838.2 895.9 832.4 888.2 831.6 887.1 820.6ZM907.2 858.0 911.3 857.0 917.2 858.5 917.9 869.0 918.7 880.8 921.6 883.0 923.0 887.4 920.9 889.6 915.0 893.7 912.8 889.6 909.9 885.9 909.1 880.8 908.4 869.0ZM924.1 913.1 932.9 912.3 934.1 918.2 938.8 920.5 940.5 926.4 941.1 933.4 952.3 933.2 953.4 938.7 954.0 944.6 956.6 945.2 957.6 950.5 958.7 954.6 955.2 958.1 951.1 960.8 948.2 956.3 947.0 951.6 944.1 946.9 942.9 940.5 941.1 938.1 932.3 938.7 931.1 929.3 925.3 927.9 924.5 921.1ZM962.8 984.5 969.3 981.0 979.3 981.0 981.0 986.8 980.4 989.8 977.5 993.9 977.7 997.2 968.4 997.6 966.9 991.5 964.6 988.6ZM980.1 1003.3 981.0 993.3 991.6 993.3 992.5 1002.1 992.8 1012.7 995.1 1012.1 1004.5 1013.2 1005.1 1018.5 1011.0 1019.1 1011.5 1026.7 1012.1 1032.6 1013.9 1029.7 1024.4 1030.3 1025.6 1038.5 1020.9 1039.1 1020.7 1049.6 1011.3 1050.0 1010.1 1040.8 1006.8 1040.2 999.8 1039.7 999.2 1035.0 995.1 1030.3 992.8 1025.6 989.2 1024.4 988.7 1016.2 984.0 1015.6 981.0 1009.1ZM1027.0 1042.6 1033.8 1039.4 1042.6 1039.9 1044.4 1042.6 1048.5 1046.1 1049.7 1050.0 1044.4 1051.4 1042.1 1055.5 1033.2 1055.5 1031.5 1051.4 1030.3 1045.5ZM1047.1 1060.3 1049.7 1059.9 1052.1 1056.2 1056.1 1054.2 1059.4 1053.2 1063.4 1052.2 1067.8 1056.2 1068.2 1061.5 1069.9 1062.3 1070.8 1067.1 1069.9 1068.7 1066.6 1069.1 1063.0 1070.7 1061.4 1069.5 1059.8 1065.5 1058.2 1067.5 1053.3 1067.8 1048.1 1066.7ZM1080.2 1089.7 1083.2 1087.7 1083.6 1084.2 1089.2 1083.3 1092.8 1083.3 1094.1 1085.7 1098.1 1085.8 1099.3 1082.3 1102.5 1081.2 1118.9 1081.2 1119.7 1088.9 1120.7 1096.2 1121.9 1103.4 1124.7 1106.6 1124.7 1108.7 1122.3 1110.7 1115.8 1111.7 1113.0 1109.1 1111.8 1103.4 1111.0 1096.2 1109.8 1093.7 1107.4 1093.7 1106.2 1098.6 1099.7 1099.8 1097.3 1099.0 1088.4 1099.2 1087.2 1096.2 1086.0 1094.1 1081.1 1093.7ZM1128.1 1105.0 1131.2 1102.6 1133.6 1100.8 1138.0 1100.4 1145.3 1100.6 1147.3 1101.0 1148.9 1103.8 1147.3 1105.0 1145.7 1110.7 1142.1 1111.1 1141.3 1112.7 1132.0 1112.7 1131.2 1108.3ZM1153.0 1113.1 1156.2 1111.5 1163.0 1112.1 1164.7 1109.9 1165.5 1107.5 1174.7 1107.3 1175.5 1112.3 1177.2 1111.5 1177.2 1106.2 1186.8 1106.2 1187.7 1109.9 1191.7 1110.3 1194.1 1113.9 1195.7 1116.3 1196.9 1120.0 1195.3 1121.6 1187.7 1121.6 1186.8 1120.4 1186.0 1118.8 1181.2 1118.6 1173.1 1117.5 1172.3 1120.0 1170.7 1120.4 1169.1 1124.4 1165.1 1125.6 1160.2 1125.6 1156.2 1120.4 1154.2 1117.5 1154.6 1115.5ZM1198.1 1126.3 1198.9 1124.6 1199.2 1120.0 1199.9 1114.4 1200.9 1112.4 1203.2 1110.1 1211.8 1110.1 1212.8 1112.7 1214.8 1116.0 1215.4 1119.3 1216.7 1122.6 1217.1 1125.3 1221.0 1125.3 1221.0 1119.3 1222.4 1115.4 1223.7 1112.7 1226.3 1112.1 1229.0 1112.7 1233.9 1113.3 1233.9 1116.0 1231.9 1118.0 1231.3 1120.0 1230.6 1122.6 1230.6 1128.2 1229.9 1131.2 1229.9 1135.8 1228.3 1137.2 1225.7 1138.2 1223.0 1139.8 1219.7 1138.5 1218.4 1135.8 1217.7 1132.5 1217.1 1129.2 1213.8 1129.9 1211.1 1130.9 1209.8 1131.9 1207.8 1129.9 1198.1 1129.9ZM1233.3 1122.3 1234.9 1121.0 1237.0 1120.8 1237.5 1117.4 1238.2 1112.1 1239.2 1111.4 1239.2 1108.1 1244.8 1108.1 1248.8 1109.1 1250.1 1111.7 1249.8 1113.7 1247.8 1114.1 1247.4 1118.7 1246.8 1124.6 1245.8 1125.3 1245.5 1130.9 1244.5 1132.9 1235.2 1132.9 1234.6 1129.2 1234.1 1125.9 1233.9 1123.3ZM1250.1 1128.2 1251.4 1126.3 1255.7 1126.1 1257.4 1126.3 1263.6 1126.3 1266.9 1127.6 1269.9 1128.2 1269.9 1132.5 1268.9 1133.9 1268.9 1138.8 1259.3 1138.8 1258.0 1137.2 1253.1 1136.5 1251.7 1133.9 1251.1 1130.6ZM1275.8 1133.5 1276.8 1126.6 1277.8 1123.3 1279.1 1122.0 1281.1 1121.3 1282.1 1118.0 1286.4 1114.1 1290.4 1111.4 1293.0 1110.1 1296.0 1111.7 1299.6 1113.1 1300.3 1117.4 1300.9 1123.6 1295.0 1124.0 1291.0 1124.9 1288.4 1127.3 1287.1 1127.9 1286.7 1131.9 1284.4 1133.9 1280.8 1134.9 1277.2 1134.9ZM1301.9 1127.6 1304.2 1125.6 1304.9 1122.6 1305.2 1116.0 1306.2 1112.1 1306.9 1108.1 1313.5 1108.0 1314.8 1107.1 1317.4 1107.8 1319.1 1112.1 1320.7 1115.4 1319.4 1117.4 1318.1 1118.3 1315.8 1119.0 1314.8 1120.3 1314.5 1125.3 1313.8 1131.9 1308.9 1132.2 1304.9 1132.9 1302.9 1131.2ZM1321.1 1111.4 1330.7 1111.3 1331.3 1114.4 1332.0 1122.6 1338.6 1123.0 1341.9 1121.3 1343.3 1119.0 1346.3 1116.4 1347.9 1116.0 1348.3 1111.1 1357.8 1111.1 1359.0 1112.4 1359.0 1116.7 1356.8 1118.3 1356.5 1122.0 1354.9 1123.6 1352.2 1124.0 1351.6 1127.9 1350.9 1131.9 1345.9 1132.2 1340.6 1132.9 1339.2 1130.6 1336.6 1132.5 1327.3 1132.9 1323.4 1128.2 1322.1 1122.6 1321.4 1116.0ZM1365.1 1124.6 1366.1 1122.6 1366.1 1119.0 1367.1 1116.0 1367.1 1110.1 1368.1 1109.8 1368.1 1106.1 1378.0 1106.1 1378.2 1112.1 1379.0 1112.4 1379.0 1121.0 1379.9 1121.3 1379.9 1123.6 1376.3 1123.8 1375.7 1125.9 1374.7 1127.9 1373.3 1126.9 1371.0 1126.7 1368.4 1125.8ZM1381.9 1122.6 1383.3 1121.0 1383.9 1119.3 1382.3 1118.7 1382.3 1116.0 1383.6 1114.1 1385.2 1113.1 1387.2 1113.7 1392.8 1114.1 1393.8 1115.4 1394.0 1117.7 1396.8 1118.0 1398.1 1119.3 1398.4 1122.0 1399.1 1124.6 1400.1 1126.6 1400.8 1128.9 1401.7 1131.6 1400.8 1133.9 1391.2 1133.9 1390.2 1130.6 1389.9 1127.3 1388.9 1125.9 1386.2 1125.6 1385.6 1124.6 1384.2 1123.0ZM1402.1 1127.9 1403.1 1125.3 1405.0 1124.9 1406.0 1123.6 1406.7 1121.0 1407.4 1118.0 1415.3 1118.0 1415.9 1117.0 1416.9 1117.4 1417.3 1120.0 1418.9 1120.7 1420.9 1121.3 1420.9 1124.9 1421.9 1127.3 1422.9 1130.6 1422.5 1131.9 1417.3 1131.9 1415.6 1132.9 1413.0 1132.5 1412.0 1131.9 1410.0 1132.9 1408.7 1131.9 1406.0 1131.9 1403.4 1130.9ZM1424.2 1128.2 1425.2 1126.3 1425.2 1122.3 1426.2 1121.6 1426.2 1114.4 1427.8 1113.1 1429.1 1112.7 1432.1 1109.8 1434.4 1111.1 1436.4 1113.1 1439.0 1115.4 1439.0 1122.6 1439.7 1123.3 1440.0 1128.6 1441.0 1129.9 1439.7 1131.9 1434.4 1131.9 1433.8 1133.9 1430.1 1133.9 1429.8 1132.2 1425.8 1131.9 1424.5 1130.6ZM1446.0 1127.9 1447.0 1126.6 1447.3 1122.3 1448.3 1121.3 1448.3 1119.3 1452.9 1119.0 1453.6 1118.0 1457.9 1118.0 1458.2 1120.0 1461.8 1120.3 1462.2 1124.0 1463.2 1124.3 1463.5 1130.2 1461.8 1130.9 1460.8 1131.9 1459.5 1133.5 1457.9 1134.9 1456.2 1135.8 1454.9 1134.9 1453.6 1134.2 1451.6 1135.5 1447.3 1135.8 1447.0 1131.9 1447.6 1130.6 1446.0 1129.6ZM1464.8 1123.0 1466.8 1122.6 1469.8 1122.0 1470.4 1119.7 1471.7 1117.7 1473.7 1117.2 1476.0 1117.4 1476.7 1118.0 1480.6 1118.0 1482.0 1119.3 1482.0 1124.0 1487.9 1124.3 1488.9 1123.0 1494.8 1123.0 1495.8 1122.3 1500.0 1122.0 1500.0 1133.2 1498.8 1133.9 1498.5 1135.8 1495.8 1136.5 1489.2 1136.5 1488.6 1135.2 1486.6 1134.2 1484.6 1132.5 1470.1 1131.9 1469.4 1130.9 1465.5 1130.2 1464.8 1129.2ZM1488.7 1123.0 1490.0 1123.0 1495.3 1122.1 1500.6 1122.1 1502.5 1124.0 1504.9 1124.3 1504.9 1128.6 1502.5 1128.9 1500.2 1130.9 1499.2 1133.2 1498.6 1135.8 1496.3 1136.5 1490.0 1137.2 1488.7 1137.2ZM1508.2 1130.9 1509.8 1128.9 1512.1 1127.3 1515.1 1125.9 1517.1 1126.3 1519.4 1127.6 1523.7 1127.9 1524.3 1130.2 1527.6 1130.9 1529.0 1133.9 1527.6 1136.5 1526.0 1140.0 1510.5 1140.0 1509.5 1135.8 1509.1 1132.5ZM1532.9 1126.9 1534.2 1124.3 1538.2 1123.3 1540.2 1122.1 1547.8 1122.0 1548.1 1125.3 1549.1 1126.3 1548.8 1127.9 1546.8 1129.2 1546.5 1132.5 1545.8 1140.0 1536.2 1140.0 1534.9 1135.8 1534.2 1130.2 1533.6 1128.6ZM1551.1 1118.3 1556.0 1117.9 1556.7 1117.0 1561.0 1117.0 1562.3 1120.0 1564.6 1120.3 1565.3 1121.0 1569.9 1121.2 1570.9 1122.6 1570.9 1125.3 1569.9 1126.6 1569.6 1133.9 1568.9 1135.8 1559.3 1135.8 1558.0 1128.6 1556.0 1127.6 1553.4 1126.9 1552.1 1124.0 1551.7 1120.0ZM1571.9 1126.6 1572.9 1124.3 1578.5 1124.0 1579.8 1122.0 1580.8 1119.3 1581.5 1118.0 1585.1 1117.7 1587.7 1117.0 1590.7 1118.0 1592.0 1120.7 1593.0 1122.0 1597.0 1121.6 1599.9 1121.2 1600.3 1119.0 1602.9 1117.4 1605.6 1116.7 1607.5 1116.0 1606.5 1118.3 1605.9 1119.0 1608.2 1119.3 1608.9 1121.0 1607.5 1121.3 1607.9 1122.6 1608.5 1126.9 1607.5 1128.9 1606.5 1133.2 1605.9 1135.8 1604.2 1136.5 1601.6 1140.0 1594.3 1140.0 1592.0 1137.8 1591.0 1132.5 1590.7 1127.9 1589.7 1125.9 1588.4 1127.6 1587.1 1131.2 1585.1 1133.9 1581.1 1135.8 1580.5 1136.8 1573.2 1136.8 1571.2 1135.8 1570.6 1133.9 1571.9 1131.9 1572.2 1129.2ZM1608.2 1119.2 1612.2 1119.0 1612.8 1118.0 1618.8 1118.0 1619.4 1119.0 1621.9 1119.3 1621.9 1121.0 1620.7 1121.3 1620.4 1131.2 1619.8 1131.9 1619.8 1137.8 1610.5 1137.8 1609.8 1135.2 1609.2 1129.2 1608.9 1127.3 1608.2 1122.6ZM1624.0 1131.9 1626.0 1130.2 1627.3 1129.9 1630.0 1127.3 1634.0 1127.1 1638.6 1128.2 1641.9 1130.6 1643.2 1133.2 1644.5 1134.9 1645.8 1137.2 1645.2 1140.0 1628.7 1140.0 1626.0 1137.8 1624.7 1135.2ZM1649.1 1128.6 1650.2 1126.6 1650.2 1120.3 1651.2 1118.0 1661.0 1118.0 1661.3 1122.6 1662.1 1123.3 1662.5 1126.9 1665.0 1127.3 1665.1 1131.9 1666.1 1132.5 1666.4 1128.9 1668.1 1126.6 1669.7 1124.9 1671.0 1125.3 1671.7 1125.9 1678.0 1126.3 1679.0 1130.6 1682.3 1131.2 1685.6 1132.2 1686.2 1133.9 1688.9 1135.2 1688.9 1140.0 1673.0 1140.0 1671.0 1136.5 1666.4 1136.5 1661.1 1137.5 1655.8 1137.5 1655.8 1134.5 1654.2 1133.2 1652.5 1132.5 1650.9 1129.2ZM1693.2 1118.7 1694.8 1117.4 1703.7 1117.2 1704.4 1120.3 1706.0 1123.3 1707.0 1125.6 1709.0 1124.0 1712.0 1123.3 1715.9 1123.3 1719.6 1126.6 1719.9 1129.2 1720.9 1130.2 1720.9 1131.9 1717.9 1132.5 1715.9 1133.9 1713.3 1137.8 1711.3 1139.5 1709.3 1140.0 1705.4 1140.0 1701.4 1137.8 1699.4 1135.2 1697.4 1131.2 1696.8 1126.9 1695.8 1125.3 1694.5 1122.0 1693.5 1120.7ZM1726.2 1123.6 1727.8 1121.6 1732.1 1121.0 1733.1 1116.4 1737.1 1114.4 1739.4 1113.1 1741.4 1114.1 1744.7 1117.4 1745.7 1121.3 1746.3 1124.6 1748.0 1125.9 1747.3 1127.9 1745.7 1129.2 1743.7 1130.6 1742.7 1133.9 1741.4 1133.9 1740.4 1132.5 1736.4 1132.2 1731.1 1132.5 1729.1 1130.6 1727.8 1127.9 1727.8 1126.6ZM1749.3 1131.9 1749.9 1129.2 1749.9 1126.3 1754.2 1126.3 1756.9 1125.3 1759.5 1125.3 1761.8 1127.3 1762.2 1130.6 1763.2 1135.2 1767.8 1135.2 1768.4 1136.8 1768.4 1140.0 1753.6 1140.0 1752.9 1135.2 1750.9 1133.2ZM1768.1 1129.2 1768.4 1127.3 1772.7 1127.1 1775.4 1126.3 1778.0 1126.3 1780.0 1127.9 1782.0 1128.2 1782.0 1130.6 1781.0 1132.5 1781.0 1140.0 1769.1 1140.0 1768.8 1135.8 1768.4 1132.5ZM1783.0 1131.9 1784.6 1131.2 1786.3 1127.9 1786.9 1125.9 1786.9 1121.3 1796.5 1121.2 1798.1 1122.3 1798.5 1126.6 1800.0 1129.9 1800.0 1140.0 1791.9 1140.0 1790.6 1137.8 1787.9 1137.2 1784.0 1136.5 1783.3 1134.5ZM1790.0 1121.0 1796.9 1121.0 1797.9 1122.6 1798.3 1126.9 1799.9 1130.2 1801.6 1134.5 1802.2 1131.2 1802.5 1129.2 1803.2 1128.2 1812.8 1128.2 1813.1 1129.9 1819.7 1129.9 1820.4 1129.1 1824.7 1128.9 1826.0 1127.3 1828.0 1126.9 1828.2 1123.0 1837.9 1123.0 1838.9 1125.3 1839.2 1130.6 1839.9 1132.5 1839.9 1137.8 1829.6 1137.8 1829.0 1140.0 1792.0 1140.0 1791.7 1137.8 1790.0 1137.8ZM1841.2 1132.9 1842.2 1128.2 1844.8 1127.9 1846.1 1125.3 1850.8 1125.1 1851.4 1125.9 1856.0 1125.9 1856.0 1131.2 1856.7 1132.5 1857.0 1140.0 1846.8 1140.0 1846.8 1136.5 1842.8 1135.8 1841.5 1135.2ZM1857.0 1126.3 1858.3 1124.3 1864.0 1124.0 1864.3 1123.0 1868.2 1122.6 1868.9 1122.0 1872.5 1122.1 1874.5 1124.3 1877.8 1127.3 1878.2 1128.9 1880.8 1131.6 1880.1 1132.9 1878.8 1135.8 1871.2 1135.8 1870.6 1135.2 1863.3 1135.2 1862.6 1135.8 1861.3 1133.9 1860.0 1132.5 1859.0 1130.2 1857.4 1129.6ZM1883.1 1130.6 1884.1 1128.6 1884.1 1120.3 1885.1 1119.3 1885.1 1115.0 1895.0 1115.0 1895.1 1119.0 1896.0 1119.3 1896.3 1124.9 1897.0 1126.3 1897.0 1130.6 1893.0 1130.9 1892.7 1132.5 1884.4 1132.5ZM1900.9 1126.6 1900.9 1123.3 1901.9 1122.3 1902.3 1120.0 1904.2 1118.0 1908.2 1116.0 1909.5 1116.4 1911.8 1117.4 1912.8 1118.0 1913.5 1115.4 1915.5 1115.0 1916.8 1116.0 1919.8 1116.4 1921.7 1117.4 1923.1 1119.3 1922.7 1121.0 1922.1 1122.0 1921.4 1124.0 1920.1 1126.6 1917.8 1129.2 1916.5 1131.2 1915.8 1133.9 1914.1 1133.9 1913.8 1132.5 1906.2 1132.5 1905.9 1128.9 1903.6 1127.9ZM1928.0 1124.6 1928.0 1122.3 1930.0 1121.0 1932.0 1119.3 1941.5 1119.2 1941.9 1123.0 1942.9 1123.3 1943.2 1126.9 1943.9 1126.3 1944.8 1123.0 1945.8 1120.0 1948.5 1117.4 1950.0 1116.0 1950.0 1135.8 1944.8 1135.8 1941.2 1134.5 1939.9 1133.9 1939.6 1135.2 1930.0 1135.2 1929.3 1131.9 1928.7 1127.9ZM1938.7 1119.0 1941.7 1119.0 1942.0 1122.6 1943.0 1123.3 1943.0 1126.9 1944.0 1126.9 1944.3 1123.3 1945.3 1120.3 1947.6 1118.0 1949.6 1116.0 1954.9 1116.0 1957.2 1117.4 1959.1 1119.7 1962.8 1120.1 1962.8 1122.6 1961.8 1123.3 1961.8 1127.9 1960.8 1129.9 1953.2 1129.9 1952.2 1131.9 1951.6 1134.5 1950.6 1135.8 1945.3 1135.8 1944.6 1135.2 1938.7 1134.9ZM1970.0 1115.7 1970.0 1112.1 1971.0 1111.7 1971.4 1106.1 1972.0 1104.8 1972.4 1098.5 1973.3 1097.0 1982.9 1097.0 1983.3 1106.8 1983.9 1107.4 1983.9 1113.7 1981.9 1114.1 1980.3 1115.0 1979.9 1117.7 1976.3 1117.9 1976.0 1116.7 1972.4 1116.7ZM1986.2 1117.5 1988.2 1116.4 1989.9 1116.0 1990.2 1113.1 1994.1 1113.1 1994.1 1109.1 2003.7 1109.1 2003.9 1115.7 2003.1 1116.0 2002.7 1122.6 2001.7 1124.6 1998.1 1124.9 1997.8 1125.9 1992.2 1125.9 1991.8 1124.0 1989.2 1123.6 1987.2 1121.6 1988.9 1120.0 1987.5 1118.7ZM2004.1 1129.6 2004.4 1126.9 2005.0 1123.0 2005.4 1119.3 2006.7 1118.7 2008.0 1116.0 2011.6 1115.9 2012.6 1117.0 2017.6 1117.2 2018.9 1118.0 2019.9 1117.0 2021.9 1117.4 2022.9 1119.0 2022.2 1116.7 2022.2 1110.1 2030.8 1110.1 2031.5 1111.1 2033.8 1111.1 2034.1 1109.1 2036.4 1107.1 2038.7 1109.8 2042.4 1113.4 2048.3 1113.3 2049.3 1114.1 2052.6 1114.1 2053.2 1117.4 2054.2 1120.0 2055.9 1121.3 2058.2 1119.3 2061.5 1119.0 2063.8 1117.4 2064.8 1117.4 2064.8 1119.7 2064.1 1121.6 2065.8 1122.3 2065.8 1126.6 2064.8 1127.6 2064.8 1130.9 2063.5 1132.5 2062.8 1134.5 2060.8 1136.2 2057.9 1136.5 2056.2 1137.8 2054.9 1137.8 2052.3 1135.8 2050.6 1133.9 2049.9 1130.6 2049.0 1129.9 2047.0 1127.9 2045.7 1126.6 2045.0 1124.0 2044.0 1122.0 2043.0 1119.3 2042.4 1116.4 2042.0 1121.3 2041.0 1123.3 2040.4 1124.6 2037.7 1126.9 2034.1 1126.9 2032.4 1125.9 2030.5 1124.9 2029.1 1124.0 2028.8 1121.3 2025.2 1121.0 2023.9 1122.6 2023.9 1124.6 2020.6 1124.9 2019.9 1126.6 2019.2 1127.9 2014.9 1127.9 2014.0 1129.2 2013.6 1131.9 2012.3 1132.9 2010.7 1133.9 2009.3 1135.2 2006.0 1135.2 2006.0 1132.5 2006.7 1130.2ZM2075.0 1121.6 2075.0 1114.1 2078.7 1113.9 2080.0 1112.7 2080.3 1111.1 2086.9 1111.1 2087.3 1112.1 2089.9 1112.1 2090.6 1115.4 2090.9 1121.0 2091.9 1121.3 2091.9 1124.0 2090.6 1124.9 2088.9 1125.3 2089.9 1126.6 2089.9 1128.9 2087.6 1128.9 2085.3 1127.6 2083.6 1126.9 2082.6 1125.9 2076.0 1125.9 2075.7 1122.6ZM2095.8 1129.2 2096.8 1128.9 2097.2 1119.3 2098.8 1117.7 2100.8 1116.7 2101.1 1111.4 2106.7 1111.3 2107.1 1112.1 2109.7 1111.7 2110.4 1111.1 2113.4 1111.1 2114.3 1112.4 2116.7 1113.4 2117.3 1115.1 2119.6 1116.0 2122.6 1116.0 2123.6 1118.0 2123.9 1122.0 2127.5 1122.3 2127.9 1125.6 2126.9 1126.3 2126.9 1129.9 2120.9 1129.9 2120.3 1130.9 2117.0 1130.9 2116.0 1128.9 2115.0 1125.9 2114.0 1125.0 2111.0 1123.3 2110.0 1123.0 2109.1 1125.3 2107.1 1125.9 2106.7 1129.9 2105.8 1130.2 2105.8 1138.5 2103.1 1138.8 2096.2 1137.8ZM2130.2 1125.3 2130.2 1119.0 2133.8 1119.0 2134.8 1118.0 2136.1 1117.4 2136.1 1111.4 2138.1 1109.4 2139.8 1108.1 2141.7 1107.1 2145.4 1107.1 2147.4 1108.8 2148.7 1111.4 2149.0 1114.1 2148.0 1105.1 2147.0 1104.8 2148.0 1104.2 2148.0 1095.2 2157.9 1095.2 2158.3 1097.9 2158.9 1098.2 2158.9 1108.8 2160.2 1109.8 2161.9 1109.1 2164.5 1108.1 2165.9 1108.4 2168.2 1109.8 2172.1 1109.1 2178.4 1109.1 2180.4 1111.1 2182.7 1112.4 2182.7 1113.4 2182.0 1115.1 2182.0 1116.7 2178.1 1117.0 2177.1 1119.0 2175.8 1121.3 2174.8 1124.0 2173.1 1125.9 2171.5 1126.9 2169.8 1126.6 2167.8 1125.6 2165.5 1125.0 2164.2 1123.6 2163.2 1121.3 2162.9 1117.4 2161.9 1114.1 2160.6 1115.4 2160.9 1117.0 2159.6 1119.3 2156.9 1119.0 2150.7 1119.0 2148.4 1120.0 2145.7 1121.0 2144.7 1121.3 2144.7 1125.3 2143.7 1127.3 2141.7 1129.9 2139.8 1130.6 2134.5 1130.9 2132.5 1128.9 2130.9 1126.9Z" fill="#00f"/>
<text x="232.5" y="0" transform="translate(0 1229) scale(1 1.045)" font-size="65.3" text-anchor="middle">4</text>
<text x="721.5" y="0" transform="translate(0 1229) scale(1 1.045)" font-size="65.3" text-anchor="middle">4.5</text>
<text x="1209.5" y="0" transform="translate(0 1229) scale(1 1.045)" font-size="65.3" text-anchor="middle">5</text>
<text x="1697.5" y="0" transform="translate(0 1229) scale(1 1.045)" font-size="65.3" text-anchor="middle">5.5</text>
<text x="2184.5" y="0" transform="translate(0 1229) scale(1 1.045)" font-size="65.3" text-anchor="middle">6</text>
<text x="206" y="0" transform="translate(0 1160.5) scale(1 1.045)" font-size="65.3" text-anchor="end">5</text>
<text x="206" y="0" transform="translate(0 982.5) scale(1 1.045)" font-size="65.3" text-anchor="end">6</text>
<text x="206" y="0" transform="translate(0 803.5) scale(1 1.045)" font-size="65.3" text-anchor="end">7</text>
<text x="206" y="0" transform="translate(0 624.5) scale(1 1.045)" font-size="65.3" text-anchor="end">8</text>
<text x="206" y="0" transform="translate(0 446.5) scale(1 1.045)" font-size="65.3" text-anchor="end">9</text>
<text x="206" y="0" transform="translate(0 267.5) scale(1 1.045)" font-size="65.3" text-anchor="end">10</text>
<text x="206" y="0" transform="translate(0 88.5) scale(1 1.045)" font-size="65.3" text-anchor="end">11</text>
<text x="2211.5" y="0" transform="translate(0 1160.5) scale(1 1.045)" font-size="65.3" text-anchor="start">0</text>
<text x="2211.5" y="0" transform="translate(0 1026.5) scale(1 1.045)" font-size="65.3" text-anchor="start">0.1</text>
<text x="2211.5" y="0" transform="translate(0 892.5) scale(1 1.045)" font-size="65.3" text-anchor="start">0.2</text>
<text x="2211.5" y="0" transform="translate(0 758.5) scale(1 1.045)" font-size="65.3" text-anchor="start">0.3</text>
<text x="2211.5" y="0" transform="translate(0 624.5) scale(1 1.045)" font-size="65.3" text-anchor="start">0.4</text>
<text x="2211.5" y="0" transform="translate(0 490.5) scale(1 1.045)" font-size="65.3" text-anchor="start">0.5</text>
<text x="2211.5" y="0" transform="translate(0 356.5) scale(1 1.045)" font-size="65.3" text-anchor="start">0.6</text>
<text x="2211.5" y="0" transform="translate(0 222.5) scale(1 1.045)" font-size="65.3" text-anchor="start">0.7</text>
<text x="2211.5" y="0" transform="translate(0 88.5) scale(1 1.045)" font-size="65.3" text-anchor="start">0.8</text>





<rect x="136.48" y="259.94" width="12.13" height="8.56" fill="#fff"/><rect x="157.57" y="259.94" width="11.30" height="8.56" fill="#fff"/>
<rect x="136.48" y="80.94" width="12.13" height="8.56" fill="#fff"/><rect x="157.57" y="80.94" width="11.30" height="8.56" fill="#fff"/><rect x="172.80" y="80.94" width="12.13" height="8.56" fill="#fff"/><rect x="193.88" y="80.94" width="11.30" height="8.56" fill="#fff"/>

<rect x="2269.07" y="1018.94" width="12.13" height="8.56" fill="#fff"/><rect x="2290.16" y="1018.94" width="11.30" height="8.56" fill="#fff"/>







<text x="1210" y="0" transform="translate(0 1329) scale(1 1.045)" font-size="71.8" text-anchor="middle">Frequency (GHz)</text>
<text x="0" y="0" transform="translate(86 576.5) rotate(-90) scale(1 1.045)" font-size="71.8" text-anchor="middle">Dielectric constant</text>
<text x="0" y="0" transform="translate(2423 564.5) rotate(-90) scale(1 1.045)" font-size="71.8" text-anchor="middle">Loss tangent</text>
<rect x="996" y="161" width="1004" height="242" fill="#fff"/>
<path d="M1015 234H1196" stroke="#f00" stroke-width="10"/>
<path d="M1015 345H1196" stroke="#00f" stroke-width="10" stroke-dasharray="37 35"/>
<text x="0" y="0" transform="translate(1209 248) scale(1 1.045)" font-size="71.8">Dielectric constant (<tspan font-family="'Liberation Serif', 'DejaVu Serif', serif" font-style="italic" stroke="#000" stroke-width="1.6" dy="2">&#x3F5;</tspan><tspan font-size="58" dx="5" dy="34">r</tspan><tspan dy="-36">)</tspan></text>
<text x="0" y="0" transform="translate(1209 378) scale(1 1.045)" font-size="71.8">Loss tangent (tan <tspan font-family="'Liberation Serif', 'DejaVu Serif', serif" font-style="italic" stroke="#000" stroke-width="1.6" dx="2">&#x3B4;</tspan>)</text>
</svg></body></html>
